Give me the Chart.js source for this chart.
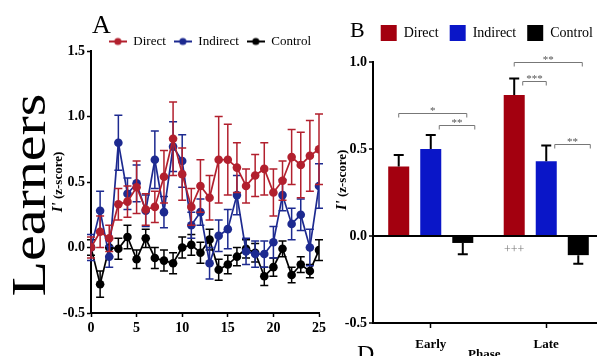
<!DOCTYPE html>
<html>
<head>
<meta charset="utf-8">
<script src="https://cdn.jsdelivr.net/npm/chart.js@4.4.1/dist/chart.umd.min.js"></script>
<style>
  html, body { margin:0; padding:0; background:#fff; }
  body { width:597px; height:356px; overflow:hidden; position:relative; font-family:'Liberation Serif', serif; }
  #boxA { position:absolute; left:0; top:0; width:335px; height:356px; }
  #boxB { position:absolute; left:335px; top:0; width:285px; height:356px; }
  .lbl { position:absolute; white-space:nowrap; color:#000; line-height:1; }
  .rot { transform: translate(-50%,-50%) rotate(-90deg); }
  .ytitle { font-weight:bold; font-size:13px; }
  .ytitle i { font-size:15px; }
</style>
</head>
<body>
<div id="boxA"><canvas id="chartA"></canvas></div>
<div id="boxB"><canvas id="chartB"></canvas></div>

<div class="lbl" style="left:29px; top:195px; font-size:58px; transform:translate(-50%,-50%) rotate(-90deg) scaleY(0.85);">Learners</div>
<div class="lbl ytitle rot" style="left:57px; top:182px;"><i>I'</i> (z-score)</div>
<div class="lbl ytitle rot" style="left:341px; top:180px;"><i>I'</i> (z-score)</div>
<div class="lbl" style="left:92px; top:12px; font-size:26px;">A</div>
<div class="lbl" style="left:350px; top:19px; font-size:22px;">B</div>
<div class="lbl" style="left:357px; top:341px; font-size:24px;">D</div>
<div class="lbl" style="left:468px; top:347px; font-size:13px; font-weight:bold;">Phase</div>

<script>
(function(){

	"use strict";

// Panel A - trial by trial
	const trials = [0,1,2,3,4,5,6,7,8,9,10,11,12,13,14,15,16,17,18,19,20,21,22,23,24,25];
	const direct = [0.00,0.12,0.07,0.33,0.35,0.46,0.29,0.31,0.54,0.83,0.56,0.31,0.47,0.38,0.67,0.67,0.61,0.47,0.55,0.60,0.42,0.51,0.69,0.63,0.70,0.75];
	const directErr = [0.08,0.12,0.10,0.12,0.12,0.20,0.12,0.12,0.20,0.28,0.20,0.14,0.20,0.17,0.33,0.27,0.19,0.13,0.16,0.20,0.18,0.15,0.21,0.25,0.27,0.27];
	const indirect = [0.00,0.28,-0.07,0.80,0.41,0.49,0.28,0.67,0.27,0.77,0.66,0.17,0.27,-0.12,0.09,0.14,0.40,-0.03,-0.05,-0.05,0.04,0.40,0.18,0.25,0.00,0.47];
	const indirectErr = [0.10,0.15,0.08,0.21,0.12,0.14,0.12,0.22,0.12,0.19,0.20,0.10,0.10,0.12,0.12,0.15,0.15,0.10,0.10,0.10,0.12,0.12,0.12,0.12,0.14,0.17];
	const control = [0.00,-0.28,0.00,-0.01,0.08,-0.09,0.07,-0.08,-0.10,-0.12,0.00,0.02,-0.04,0.06,-0.17,-0.13,-0.07,-0.01,-0.04,-0.22,-0.15,-0.01,-0.21,-0.13,-0.18,-0.02];
	const controlErr = [0.06,0.10,0.07,0.08,0.09,0.07,0.07,0.08,0.08,0.08,0.08,0.08,0.08,0.08,0.08,0.07,0.07,0.07,0.07,0.07,0.07,0.06,0.06,0.06,0.05,0.08];

// Panel B - phase means
	const phases = ['Early', 'Late'];
	const groups = ['Direct', 'Indirect', 'Control'];
	const phaseMeans = [[0.40, 0.81], [0.50, 0.43], [-0.04, -0.11]];
	const phaseErr = [[0.065, 0.095], [0.08, 0.09], [0.065, 0.05]];
	// significance brackets: phase index, group from/to, height, stars
	const sigBrackets = [
		{phase:0, from:0, to:2, y:0.705, stars:'*'},
		{phase:0, from:1, to:2, y:0.64, stars:'**'},
		{phase:1, from:0, to:2, y:1.0, stars:'**'},
		{phase:1, from:0, to:1, y:0.89, stars:'***'},
		{phase:1, from:1, to:2, y:0.527, stars:'**'}
	];

// Colours
	const lineColors = ['#b2202e', '#1d2a90', '#000000'];
	const barColors = ['#a3000f', '#0a16c8', '#000000'];

	const serif = "'Liberation Serif', serif";
	Chart.defaults.font.family = serif;
	Chart.defaults.color = '#000';
	Chart.defaults.animation = false;

	function legendIcon(color){
		const c = document.createElement('canvas');
		c.width = 18; c.height = 10;
		const g = c.getContext('2d');
		g.strokeStyle = color; g.lineWidth = 2;
		g.beginPath(); g.moveTo(0,5); g.lineTo(18,5); g.stroke();
		g.fillStyle = color;
		g.beginPath(); g.arc(9,5,3.6,0,Math.PI*2); g.fill();
		return c;
	}

	// shrink legend box so it sits close to the plot
	function legendHeight(h){
		return {
			id: 'legendHeight',
			beforeInit(chart){
				const fit = chart.legend.fit;
				chart.legend.fit = function(){
					fit.call(this);
					this.height = h;
				};
			}
		};
	}

	const lineErrorBars = {
		id: 'lineErrorBars',
		afterDatasetDraw(chart, args){
			const ds = chart.data.datasets[args.index];
			if (!ds.errors) return;
			const ctx = chart.ctx;
			const ys = chart.scales.y;
			ctx.save();
			ctx.strokeStyle = ds.borderColor;
			ctx.lineWidth = 1.5;
			args.meta.data.forEach(function(pt, i){
				const v = ds.data[i].y;
				const e = ds.errors[i];
				const top = ys.getPixelForValue(v + e);
				const bot = ys.getPixelForValue(v - e);
				ctx.beginPath();
				ctx.moveTo(pt.x, top); ctx.lineTo(pt.x, bot);
				ctx.moveTo(pt.x - 4, top); ctx.lineTo(pt.x + 4, top);
				ctx.moveTo(pt.x - 4, bot); ctx.lineTo(pt.x + 4, bot);
				ctx.stroke();
			});
			ctx.restore();
		}
	};

	function series(values, errs, i){
		return {
			label: groups[i],
			data: trials.map(function(t, k){ return {x: t, y: values[k]}; }),
			errors: errs,
			borderColor: lineColors[i],
			backgroundColor: lineColors[i],
			borderWidth: 1.7,
			pointRadius: 4.3,
			pointBorderWidth: 0,
			pointHoverRadius: 4.3,
			tension: 0
		};
	}

	const axisFont = {family: serif, size: 14, weight: 'bold'};

	new Chart(document.getElementById('chartA'), {
		type: 'line',
		data: {
			datasets: [
				series(direct, directErr, 0),
				series(indirect, indirectErr, 1),
				series(control, controlErr, 2)
			]
		},
		options: {
			responsive: true,
			maintainAspectRatio: false,
			layout: {padding: {left: 0, right: 16, top: 27, bottom: 0}},
			plugins: {
				tooltip: {enabled: false},
				legend: {
					align: 'end',
					labels: {
						usePointStyle: true,
						pointStyleWidth: 18,
						padding: 8,
						font: {family: serif, size: 13},
						color: '#000',
						generateLabels: function(chart){
							const items = Chart.defaults.plugins.legend.labels.generateLabels(chart);
							items.forEach(function(it, i){ it.pointStyle = legendIcon(lineColors[i]); });
							return items;
						}
					}
				}
			},
			scales: {
				x: {
					type: 'linear', min: 0, max: 25,
					ticks: {stepSize: 5, font: axisFont, color: '#000', padding: 3},
					grid: {drawOnChartArea: false, tickLength: 4, tickColor: '#000', tickWidth: 1.5},
					border: {color: '#000', width: 2},
					afterFit: function(s){ s.height = 43; }
				},
				y: {
					min: -0.5, max: 1.5,
					ticks: {stepSize: 0.5, font: axisFont, color: '#000', padding: 2,
						callback: function(v){ return v.toFixed(1); }},
					grid: {drawOnChartArea: false, tickLength: 4, tickColor: '#000', tickWidth: 1.5},
					border: {color: '#000', width: 2},
					afterFit: function(s){ s.width = 91; }
				}
			}
		},
		plugins: [legendHeight(24), lineErrorBars]
	});

	const barExtras = {
		id: 'barExtras',
		afterDatasetsDraw(chart){
			const ctx = chart.ctx;
			const ys = chart.scales.y;
			ctx.save();
			// error bars, one sided
			chart.data.datasets.forEach(function(ds, d){
				const meta = chart.getDatasetMeta(d);
				ctx.strokeStyle = '#000';
				ctx.lineWidth = 2;
				meta.data.forEach(function(bar, i){
					const v = ds.data[i];
					const e = phaseErr[d][i] * (v < 0 ? -1 : 1);
					const y0 = ys.getPixelForValue(v);
					const y1 = ys.getPixelForValue(v + e);
					ctx.beginPath();
					ctx.moveTo(bar.x, y0); ctx.lineTo(bar.x, y1);
					ctx.moveTo(bar.x - 5, y1); ctx.lineTo(bar.x + 5, y1);
					ctx.stroke();
				});
			});
			// brackets
			ctx.strokeStyle = '#777';
			ctx.fillStyle = '#555';
			ctx.lineWidth = 1;
			ctx.font = '11px ' + serif;
			ctx.textAlign = 'center';
			ctx.textBaseline = 'bottom';
			sigBrackets.forEach(function(b){
				const a = chart.getDatasetMeta(b.from).data[b.phase];
				const z = chart.getDatasetMeta(b.to).data[b.phase];
				let x0 = a.x, x1 = z.x + 4;
				if (b.to - b.from === 1) { x0 = a.x + a.width / 2 - 2; x1 = z.x + (b.from === 1 ? 12 : 0); }
				const y = Math.round(ys.getPixelForValue(b.y)) + 0.5;
				ctx.beginPath();
				ctx.moveTo(x0, y + 4); ctx.lineTo(x0, y); ctx.lineTo(x1, y); ctx.lineTo(x1, y + 4);
				ctx.stroke();
				ctx.fillText(b.stars, (x0 + x1) / 2, y + 3);
			});
			// +++ under late direct bar
			const lateDirect = chart.getDatasetMeta(0).data[1];
			ctx.fillStyle = '#777';
			ctx.font = '12px ' + serif;
			ctx.textBaseline = 'middle';
			ctx.fillText('+++', lateDirect.x, ys.getPixelForValue(-0.08));
			ctx.restore();
		}
	};

	new Chart(document.getElementById('chartB'), {
		type: 'bar',
		data: {
			labels: phases,
			datasets: groups.map(function(g, i){
				return {
					label: g,
					data: phaseMeans[i],
					backgroundColor: barColors[i],
					borderWidth: 0,
					categoryPercentage: 0.832,
					barPercentage: 0.656
				};
			})
		},
		options: {
			responsive: true,
			maintainAspectRatio: false,
			layout: {padding: {left: 0, right: 16, top: 14, bottom: 0}},
			plugins: {
				tooltip: {enabled: false},
				legend: {
					align: 'end',
					labels: {
						boxWidth: 16, boxHeight: 16, padding: 11,
						font: {family: serif, size: 14}, color: '#000'
					}
				}
			},
			scales: {
				x: {
					ticks: {font: {family: serif, size: 13, weight: 'bold'}, color: '#000', padding: 9},
					grid: {offset: false, drawOnChartArea: false, tickLength: 5, tickColor: '#000', tickWidth: 1.5},
					border: {color: '#000', width: 2},
					afterFit: function(s){ s.height = 33; }
				},
				y: {
					min: -0.5, max: 1.0,
					ticks: {stepSize: 0.5, font: axisFont, color: '#000', padding: 2,
						callback: function(v){ return v.toFixed(1); }},
					grid: {
						color: function(c){ return c.tick && c.tick.value === 0 ? '#000' : 'rgba(0,0,0,0)'; },
						lineWidth: 2, tickLength: 4, tickColor: '#000', tickWidth: 1.5
					},
					border: {color: '#000', width: 2},
					afterFit: function(s){ s.width = 38; }
				}
			}
		},
		plugins: [legendHeight(48), barExtras]
	});

})();
</script>
</body>
</html>
